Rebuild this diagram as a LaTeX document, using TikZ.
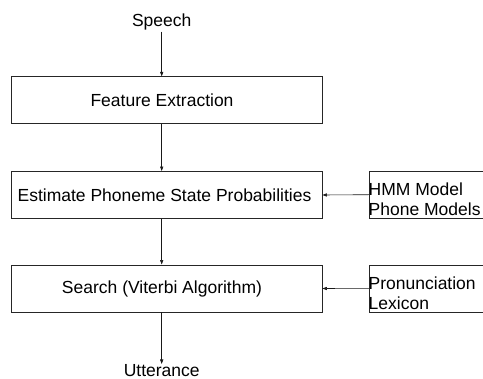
\documentclass[tikz,border=0pt]{standalone}
\usepackage{fontspec}
\setmainfont{Liberation Sans}
\usetikzlibrary{arrows.meta}
\begin{document}
\begin{tikzpicture}[x=1pt,y=-1pt,
  every node/.style={font=\fontsize{17.5pt}{20pt}\selectfont},
  mainbox/.style={draw=black!85,line width=0.9pt,minimum width=311pt,minimum height=47pt,inner sep=0pt},
  sidebox/.style={minimum width=114pt,minimum height=47pt,inner sep=0pt,anchor=north west},
  sidetext/.style={align=left,inner sep=0pt,anchor=west},
  flow/.style={draw=black!90,line width=0.6pt,-{Triangle[length=4.5pt,width=3.2pt]}},
  lbl/.style={inner sep=1.2pt}]
\useasboundingbox (0,0) rectangle (483,379);
\node[lbl,anchor=base] (speech) at (161.7,26.5) {Speech};
\node[mainbox] (fe) at (166.5,100.3) {Feature Extraction\hspace*{9pt}};
\node[mainbox] (est) at (166.5,195) {Estimate Phoneme State Probabilities\hspace*{4pt}};
\node[mainbox] (srch) at (166.5,288.5) {Search (Viterbi Algorithm)\hspace*{9pt}};
\node[lbl,inner sep=0.5pt,anchor=north] (utt) at (161.7,364) {Utterance};

\node[sidebox] (hmm) at (369,171) {};
\node[sidetext] (hmmtext) at (368.5,199.5) {HMM Model\\Phone Models};
\node[sidebox] (lex) at (369,265) {};
\node[sidetext] (lextext) at (368.5,293) {Pronunciation\\Lexicon};
\draw[draw=black!85,line width=0.9pt] (hmm.north east) -| (hmm.south west) -- (hmm.south east);
\draw[draw=black!85,line width=0.9pt] (lex.north east) -| (lex.south west) -- (lex.south east);

\draw[flow] (speech.south) -- (speech.south |- fe.north);
\draw[flow] (fe.south -| speech.south) -- (est.north -| speech.south);
\draw[flow] (est.south -| speech.south) -- (srch.north -| speech.south);
\draw[flow] (srch.south -| utt.north) -- (utt.north);
\draw[flow] (hmm.west) -- (est.east);
\draw[flow] (lex.west) -- (srch.east);
\end{tikzpicture}
\end{document}
